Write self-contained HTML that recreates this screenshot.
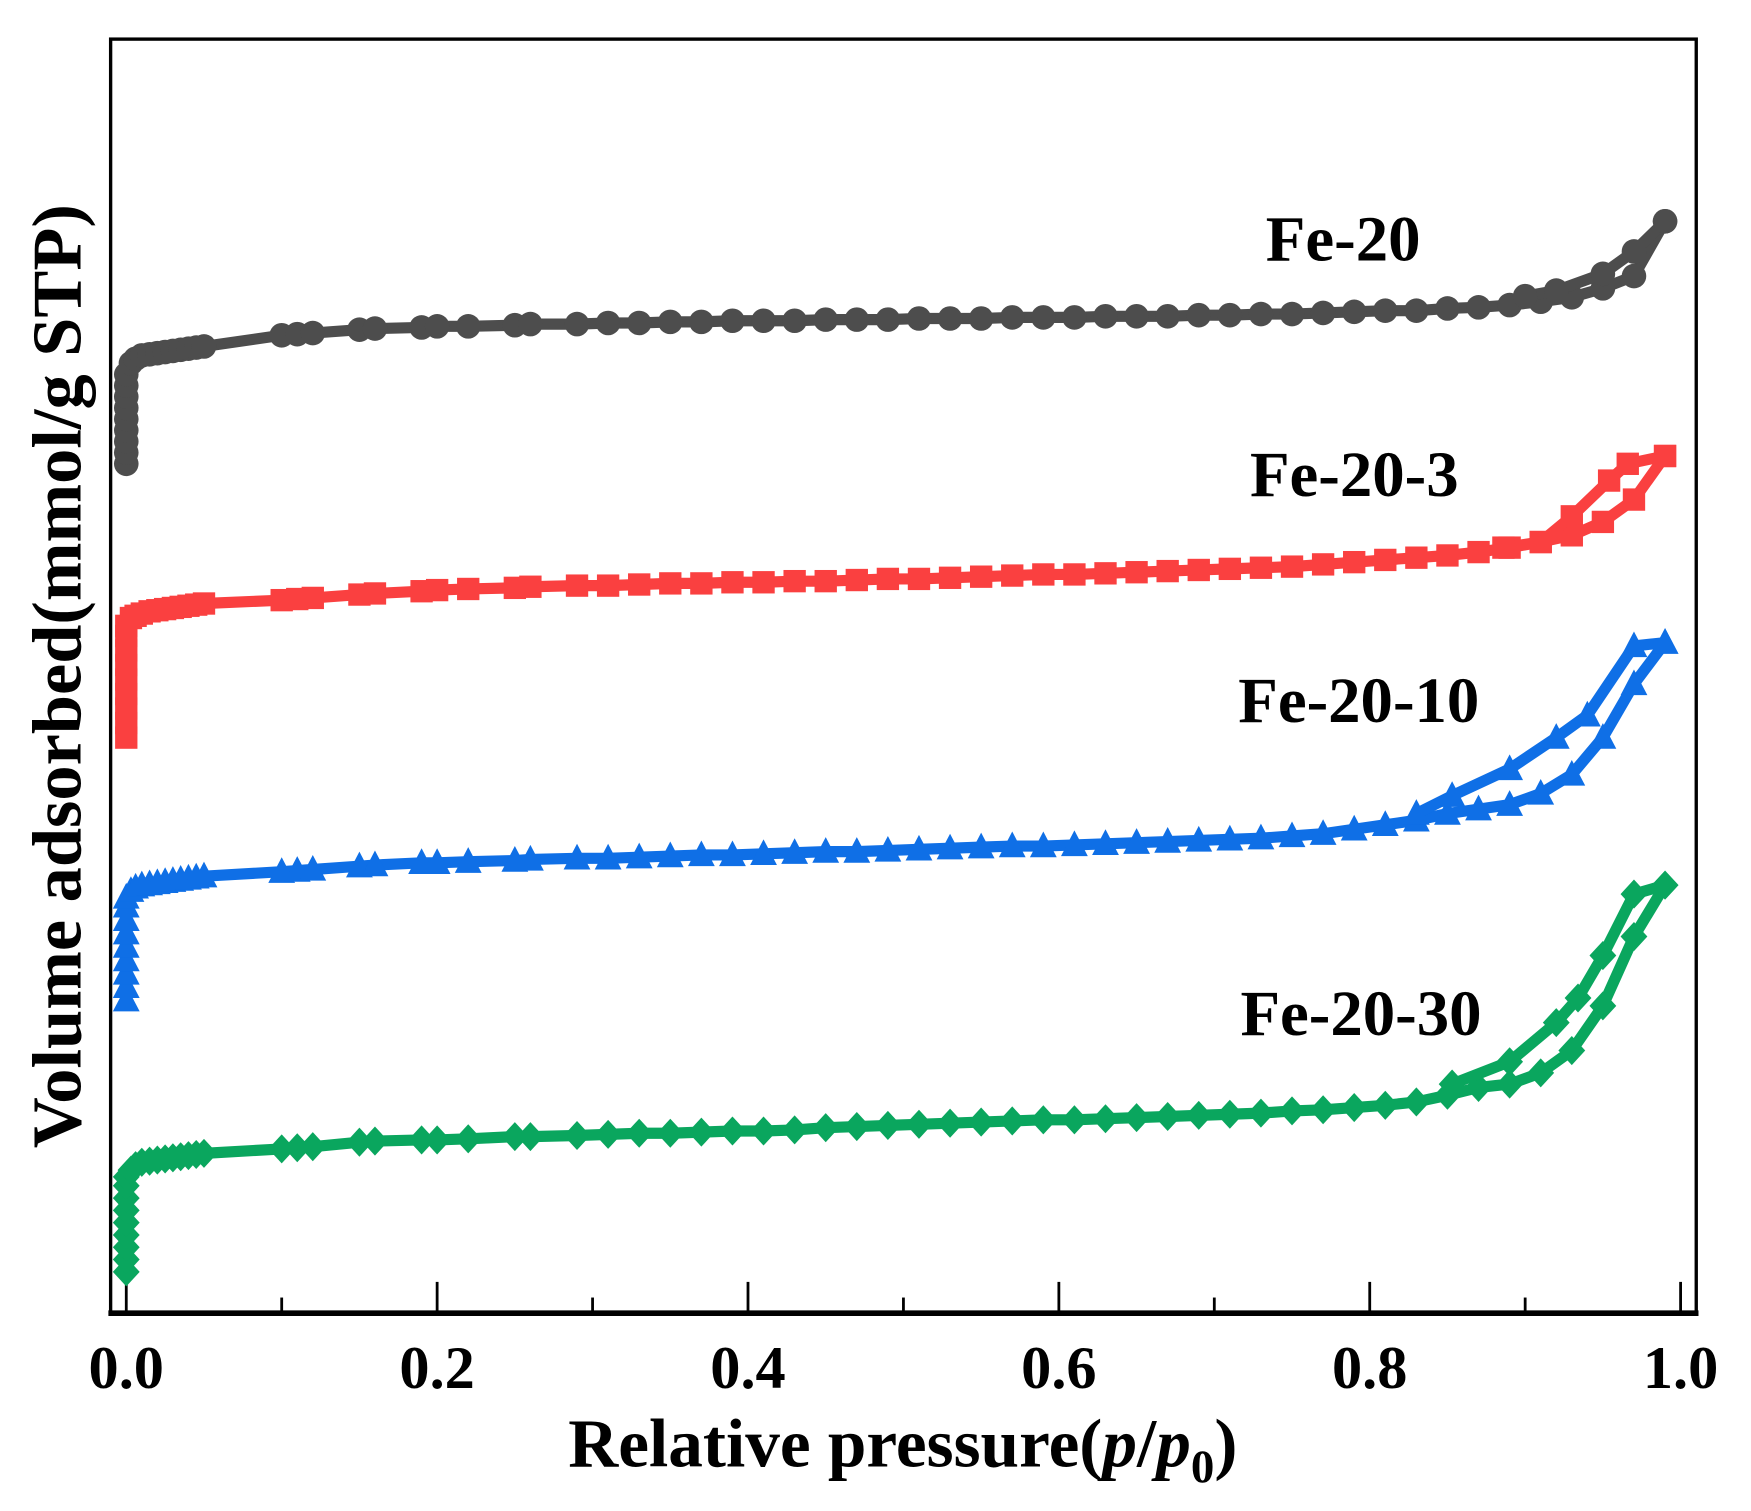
<!DOCTYPE html>
<html><head><meta charset="utf-8"><style>html,body{margin:0;padding:0;background:#fff}svg{display:block}</style></head>
<body>
<svg id="chart" width="1751" height="1511" viewBox="0 0 1567 1352" preserveAspectRatio="none" xmlns="http://www.w3.org/2000/svg" font-family="'Liberation Serif', serif" font-weight="bold">
<rect x="99" y="35" width="1419" height="1140" fill="none" stroke="#000" stroke-width="3"/>
<line x1="97" y1="1175" x2="1520" y2="1175" stroke="#000" stroke-width="5"/>
<g id="ticks"></g>
<g id="series"></g>
<text x="808" y="1312" font-size="62" text-anchor="middle">Relative pressure(<tspan font-style="italic">p</tspan>/<tspan font-style="italic">p</tspan><tspan font-size="42" dy="14">0</tspan><tspan dy="-14">)</tspan></text>
<text transform="translate(72,605) rotate(-90)" font-size="63" text-anchor="middle">Volume adsorbed(mmol/g STP)</text>
<text x="1202" y="233" font-size="58" text-anchor="middle">Fe-20</text>
<text x="1212" y="444" font-size="58" text-anchor="middle">Fe-20-3</text>
<text x="1216" y="646" font-size="58" text-anchor="middle">Fe-20-10</text>
<text x="1218" y="926" font-size="58" text-anchor="middle">Fe-20-30</text>
</svg>
<script>
// x ticks
const tickValues = [0,0.1,0.2,0.3,0.4,0.5,0.6,0.7,0.8,0.9,1.0];
const tickLabels = ["0.0","0.2","0.4","0.6","0.8","1.0"];
// shared pressure grids
const lowP = [0,0,0,0,0,0,0,0,0,0.003,0.006,0.01,0.015,0.02,0.025,0.03,0.035,0.04,0.045,0.05];
const plateauP = [0.1,0.11,0.12,0.15,0.16,0.19,0.2,0.22,0.25,0.26,0.29,0.31,0.33,0.35,0.37,0.39,0.41,0.43,0.45,0.47,0.49,0.51,0.53,0.55,0.57,0.59,0.61,0.63,0.65,0.67,0.69,0.71,0.73,0.75,0.77,0.79,0.81,0.83,0.85,0.87,0.89,0.91,0.93,0.95,0.97,0.99];
// Fe-20
const fe20LowV = [760,770,780,790,800,810,820,830,840,850,854,857,858,859,860,861,862,863,864,865];
const fe20PlatV = [875,876,877,880,881,882,883,883,884,885,885,886,886,887,887,888,888,888,889,889,889,890,890,890,891,891,891,892,892,892,893,893,894,894,895,896,897,897,899,900,902,905,909,917,928,977];
const fe20DesP = [0.99,0.97,0.95,0.92,0.9];
const fe20DesV = [977,950,930,915,910];
// Fe-20-3
const fe3LowV = [515,528,541,554,567,580,593,606,615,622,624,626,628,629,630,631,632,633,634,635];
const fe3PlatV = [638,639,640,643,644,646,647,648,649,650,651,651,652,653,653,654,654,655,655,656,657,657,658,659,660,661,661,662,663,664,665,666,667,668,670,672,674,676,678,681,685,690,696,708,728,767];
const fe3DesP = [0.99,0.966,0.954,0.93,0.91,0.886];
const fe3DesV = [767,760,745,713,690,685];
// Fe-20-10
const fe10LowV = [280,292,304,316,328,340,352,364,372,378,381,383,384,385,386,387,388,389,390,391];
const fe10PlatV = [395,396,397,400,401,403,403,404,405,406,407,407,408,409,410,410,411,412,413,413,414,415,416,417,418,418,419,420,421,422,423,424,425,427,429,433,437,441,447,451,455,465,482,515,563,600];
const fe10DesP = [0.99,0.97,0.94,0.92,0.89,0.853,0.83];
const fe10DesV = [600,597,535,515,487,463,447];
// Fe-20-30
const fe30LowV = [37,48,59,70,81,92,103,114,122,128,132,135,136,137,138,139,140,141,142,143];
const fe30PlatV = [147,148,149,153,154,155,155,156,158,158,159,160,161,161,162,163,163,164,166,167,168,169,170,171,172,173,173,174,175,176,177,178,179,181,182,184,186,189,195,202,205,215,235,275,337,383];
const fe30DesP = [0.99,0.97,0.95,0.934,0.92,0.89,0.853];
const fe30DesV = [383,375,320,282,260,225,205];

const X0=113, X1=1504, YB=1175;
function xs(p){return X0+(X1-X0)*p;}
function ys(v){return YB-v;}
const NS="http://www.w3.org/2000/svg";
const tg=document.getElementById('ticks');
tickValues.forEach((t,i)=>{
  const major = i%2===0;
  const l=document.createElementNS(NS,'line');
  
  
  l.setAttribute('x1',xs(t));l.setAttribute('x2',xs(t));
  l.setAttribute('y1',YB);l.setAttribute('y2',YB-(major?28:14));
  l.setAttribute('stroke','#000');l.setAttribute('stroke-width','2.5');
  tg.appendChild(l);
  if(major){
    const tx=document.createElementNS(NS,'text');
    
    
    tx.setAttribute('x',xs(t));tx.setAttribute('y',1242);
    tx.setAttribute('font-size','54');tx.setAttribute('text-anchor','middle');
    tx.textContent=tickLabels[i/2];
    tg.appendChild(tx);
  }
});
const sg=document.getElementById('series');
function marker(shape,x,y,color){
  let m;const r=11;
  if(shape==='circle'){m=document.createElementNS(NS,'circle');m.setAttribute('cx',x);m.setAttribute('cy',y);m.setAttribute('r',r);}
  else if(shape==='square'){m=document.createElementNS(NS,'rect');m.setAttribute('x',x-r+1);m.setAttribute('y',y-r+1);m.setAttribute('width',2*r-2);m.setAttribute('height',2*r-2);}
  else if(shape==='triangle'){m=document.createElementNS(NS,'polygon');m.setAttribute('points',`${x},${y-r-2} ${x+r+1},${y+r-1} ${x-r-1},${y+r-1}`);}
  else {m=document.createElementNS(NS,'polygon');m.setAttribute('points',`${x},${y-r-2} ${x+r+1},${y} ${x},${y+r+2} ${x-r-1},${y}`);}
  m.setAttribute('fill',color);
  return m;
}
function drawSeries(name,P,V,color,shape){
  const g=document.createElementNS(NS,'g');
  
  
  const pl=document.createElementNS(NS,'polyline');
  pl.setAttribute('points',P.map((p,i)=>xs(p)+','+ys(V[i])).join(' '));
  pl.setAttribute('fill','none');pl.setAttribute('stroke',color);pl.setAttribute('stroke-width','10');pl.setAttribute('stroke-linejoin','round');
  
  
  g.appendChild(pl);
  P.forEach((p,i)=>{
    const m=marker(shape,xs(p),ys(V[i]),color);
    
    
    g.appendChild(m);
  });
  sg.appendChild(g);
}
const adsP = lowP.concat(plateauP);
drawSeries('fe-20-adsorption',adsP,fe20LowV.concat(fe20PlatV),'#4d4d4d','circle');
drawSeries('fe-20-desorption',fe20DesP,fe20DesV,'#4d4d4d','circle');
drawSeries('fe-20-3-adsorption',adsP,fe3LowV.concat(fe3PlatV),'#fa4040','square');
drawSeries('fe-20-3-desorption',fe3DesP,fe3DesV,'#fa4040','square');
drawSeries('fe-20-10-adsorption',adsP,fe10LowV.concat(fe10PlatV),'#0f6fe6','triangle');
drawSeries('fe-20-10-desorption',fe10DesP,fe10DesV,'#0f6fe6','triangle');
drawSeries('fe-20-30-adsorption',adsP,fe30LowV.concat(fe30PlatV),'#0aa65e','diamond');
drawSeries('fe-20-30-desorption',fe30DesP,fe30DesV,'#0aa65e','diamond');
</script>
</body></html>
